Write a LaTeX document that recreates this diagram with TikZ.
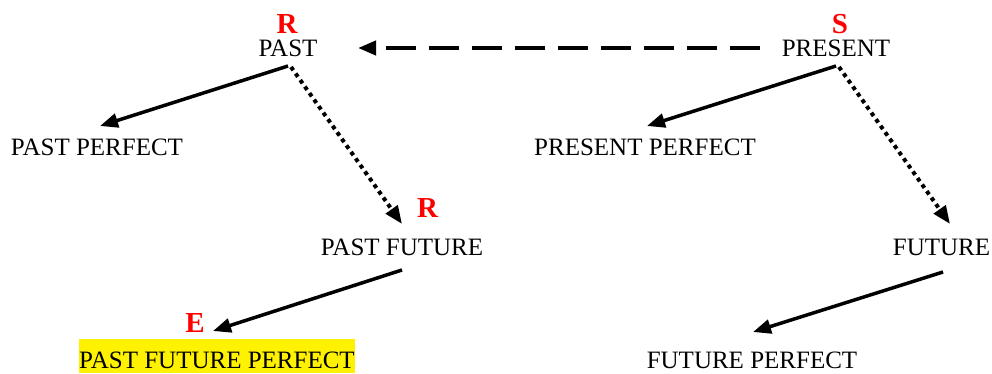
\documentclass[tikz,border=0pt]{standalone}
\usepackage{fontspec}
\setmainfont{Liberation Serif}
\usetikzlibrary{arrows.meta}
\begin{document}
\begin{tikzpicture}[x=1pt,y=-1pt,
  lbl/.style={anchor=base,inner sep=0pt,text height=17pt,text depth=0pt,font=\fontsize{25}{30}\selectfont},
  redl/.style={anchor=base,inner sep=0pt,text depth=0pt,text=red,font=\fontsize{29}{34}\selectfont\bfseries},
  arr/.style={line width=3.5pt,-{Triangle[length=18pt,width=14pt]}},
  dotarr/.style={arr,line width=4pt,dash pattern=on 4pt off 4pt},
  dasharr/.style={arr,line width=4pt,dash pattern=on 30pt off 13pt}]
\useasboundingbox (0,0) rectangle (992,374);
% nodes
\node[lbl] (past) at (288,57) {PAST};
\node[redl] (r1) at (287,33.5) {R};
\node[lbl] (present) at (836,57) {PRESENT};
\node[redl] (s) at (840,33.5) {S};
\node[lbl] (pastperf) at (97,156) {PAST PERFECT};
\node[lbl] (presperf) at (645,156) {PRESENT PERFECT};
\node[lbl] (pastfut) at (402,255) {PAST FUTURE};
\node[redl] (r2) at (427.5,217) {R};
\node[lbl] (future) at (941.5,255) {FUTURE};
\node[redl] (e) at (195,332) {E};
\node[lbl,fill=yellow,text height=29pt,text depth=5pt] (pfp) at (217,368) {PAST FUTURE PERFECT};
\node[lbl] (futperf) at (752,368) {FUTURE PERFECT};
% connector ends
\coordinate (pastA) at (288,66);
\coordinate (pastB) at (291,67);
\coordinate (presA) at (836,66);
\coordinate (presB) at (839,67);
\coordinate (presC) at (760,48);
\coordinate (pastC) at (358,48);
\coordinate (ppTip) at (100,126);
\coordinate (prpTip) at (647,126);
\coordinate (pfTip) at (402,224);
\coordinate (fTip) at (950,224);
\coordinate (pfOut) at (402,270);
\coordinate (pfpTip) at (213,331);
\coordinate (fOut) at (943,272);
\coordinate (fpTip) at (753,332);
% connectors
\draw[dasharr] (presC) -- (pastC);
\draw[arr] (pastA) -- (ppTip);
\draw[dotarr] (pastB) -- (pfTip);
\draw[arr] (presA) -- (prpTip);
\draw[dotarr] (presB) -- (fTip);
\draw[arr] (pfOut) -- (pfpTip);
\draw[arr] (fOut) -- (fpTip);
\end{tikzpicture}
\end{document}
